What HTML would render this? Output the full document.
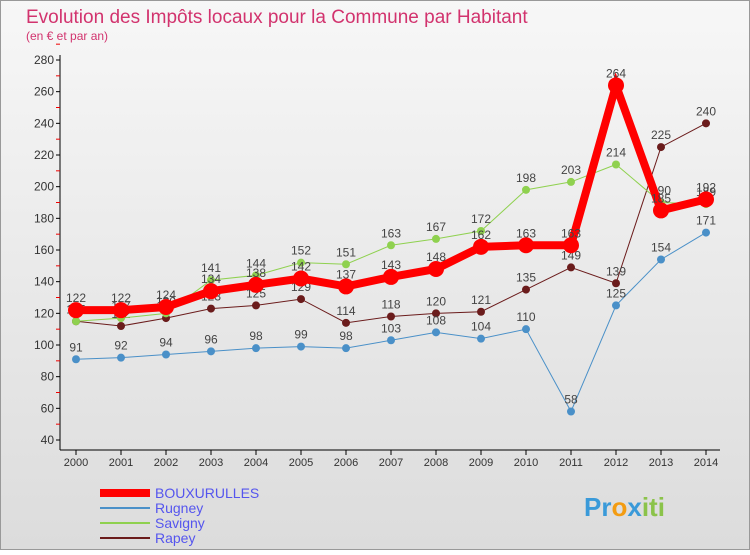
<!DOCTYPE html>
<html><head><meta charset="utf-8"><style>
body{margin:0;width:750px;height:550px;overflow:hidden;font-family:"Liberation Sans",sans-serif}
</style></head><body>
<svg width="750" height="550" xmlns="http://www.w3.org/2000/svg">
<defs><linearGradient id="bg" x1="0" y1="0" x2="0" y2="1"><stop offset="0" stop-color="#f7f7f7"/><stop offset="1" stop-color="#dcdcdc"/></linearGradient></defs>
<rect x="0.5" y="0.5" width="749" height="549" fill="url(#bg)" stroke="#999"/>
<text x="26" y="23" font-size="19" fill="#d2336e">Evolution des Impôts locaux pour la Commune par Habitant</text>
<text x="26" y="40" font-size="12" fill="#d2336e">(en € et par an)</text>
<g id="axes"></g><g id="series"></g><g id="legend"></g>
<text x="584" y="516" font-size="26" font-weight="bold" fill="#3a9ad9">Pr<tspan fill="#f39c12">o</tspan><tspan fill="#3a9ad9">x</tspan><tspan fill="#8bc34a">iti</tspan></text>
</svg>
<script>
const years=[2000,2001,2002,2003,2004,2005,2006,2007,2008,2009,2010,2011,2012,2013,2014];
const bouxurulles=[122,122,124,134,138,142,137,143,148,162,163,163,264,185,192];
const rugney=[91,92,94,96,98,99,98,103,108,104,110,58,125,154,171];
const savigny=[115,117,120,141,144,152,151,163,167,172,198,203,214,190,189];
const rapey=[115,112,117,123,125,129,114,118,120,121,135,149,139,225,240];
const yTicks=[40,60,80,100,120,140,160,180,200,220,240,260,280];
const NS="http://www.w3.org/2000/svg";
const X=i=>76+i*45, Y=v=>440-(v-40)*380/240;
function mk(t,a,p){const e=document.createElementNS(NS,t);for(const k in a)e.setAttribute(k,a[k]);p.appendChild(e);return e;}
const ax=document.getElementById('axes');
const yl=mk('line',{x1:60,y1:55,x2:60,y2:450,stroke:'#000'},ax);


const xl=mk('line',{x1:60,y1:450,x2:720,y2:450,stroke:'#000'},ax);


yTicks.forEach(v=>{
 mk('line',{x1:56,x2:60,y1:Y(v),y2:Y(v),stroke:'#000'},ax);
 mk('line',{x1:56,x2:60,y1:Y(v+10),y2:Y(v+10),stroke:'#e00'},ax);
 const t=mk('text',{x:54,y:Y(v)+4,'font-size':12,'text-anchor':'end',fill:'#333'},ax);t.textContent=v;
 
 
});
years.forEach((y,i)=>{
 mk('line',{x1:X(i),x2:X(i),y1:450,y2:455,stroke:'#000'},ax);
 const t=mk('text',{x:X(i),y:466,'font-size':11,'text-anchor':'middle',fill:'#333'},ax);t.textContent=y;
 
 
});
const sg=document.getElementById('series');
const series=[
 {n:'rapey',d:rapey,c:'#6b1c1c',w:1,r:4},
 {n:'rugney',d:rugney,c:'#4a90c8',w:1,r:4},
 {n:'savigny',d:savigny,c:'#8fd14f',w:1,r:4},
 {n:'bouxurulles',d:bouxurulles,c:'#ff0000',w:8,r:8}];
series.forEach(s=>{
 const g=mk('g',{},sg);
 
 
 mk('polyline',{points:s.d.map((v,i)=>X(i)+','+Y(v)).join(' '),fill:'none',stroke:s.c,'stroke-width':s.w},g);
 s.d.forEach((v,i)=>{
  const c=mk('circle',{cx:X(i),cy:Y(v),r:s.r,fill:s.c},g);
  
  
  const t=mk('text',{x:X(i),y:Y(v)-8,'font-size':12,'text-anchor':'middle',fill:'#444'},g);t.textContent=v;
  
  
 });
});
const lg=document.getElementById('legend');
[['BOUXURULLES','#ff0000',8],['Rugney','#4a90c8',2],['Savigny','#8fd14f',2],['Rapey','#6b1c1c',2]].forEach((l,i)=>{
 const y=493+i*15;
 const g=mk('g',{},lg);
 
 
 mk('line',{x1:100,x2:150,y1:y,y2:y,stroke:l[1],'stroke-width':l[2]},g);
 const t=mk('text',{x:155,y:y+5,'font-size':14,fill:'#5555ee'},g);t.textContent=l[0];
});
</script>
</body></html>
